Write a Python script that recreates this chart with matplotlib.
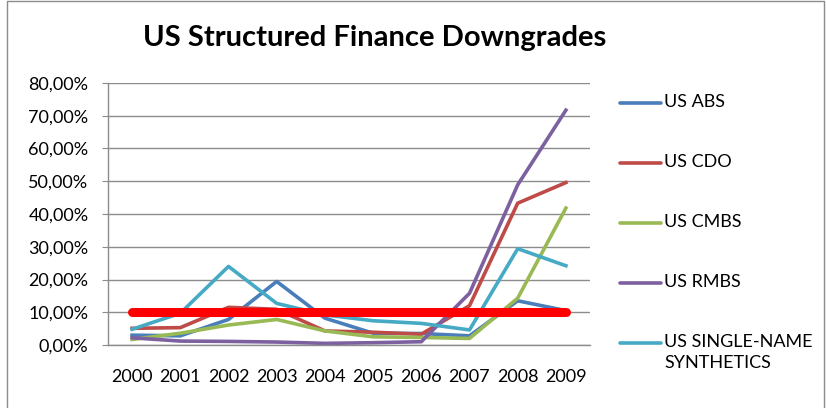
import matplotlib
matplotlib.use("Agg")
import matplotlib.pyplot as plt
import matplotlib.lines as mlines
from matplotlib.ticker import FuncFormatter, MultipleLocator

plt.rcParams['font.family'] = ['Lato', 'DejaVu Sans']

years = ['2000', '2001', '2002', '2003', '2004', '2005', '2006', '2007', '2008', '2009']
us_abs = [3.0, 2.8, 7.8, 19.4, 8.2, 3.6, 3.5, 2.8, 13.5, 10.5]
us_cdo = [5.1, 5.3, 11.5, 10.9, 4.3, 3.9, 3.3, 12.0, 43.3, 49.6]
us_cmbs = [1.7, 3.6, 6.1, 7.8, 4.3, 2.5, 2.3, 2.0, 14.3, 41.8]
us_rmbs = [2.2, 1.2, 1.1, 0.9, 0.5, 0.7, 1.0, 15.8, 48.9, 71.7]
us_synth = [4.8, 9.7, 24.0, 12.7, 9.2, 7.4, 6.6, 4.6, 29.4, 24.2]
threshold = [10.0] * len(years)

series = [
    ('US ABS', us_abs, '#4A7EBB'),
    ('US CDO', us_cdo, '#BE4B48'),
    ('US CMBS', us_cmbs, '#98B954'),
    ('US RMBS', us_rmbs, '#7D60A0'),
    ('US SINGLE-NAME\nSYNTHETICS', us_synth, '#46AAC5'),
]

W, H = 827, 408
fig = plt.figure(figsize=(W / 100, H / 100), dpi=100)
ax = fig.add_axes([108 / W, 1 - 345 / H, (590 - 108) / W, (345 - 83) / H])

x = list(range(len(years)))
for name, vals, col in series:
    ax.plot(x, vals, color=col, lw=2.6, solid_joinstyle='round')
ax.plot(x, threshold, color='#FF0000', lw=6.5, solid_capstyle='round', zorder=5)

grid_col = '#8C8C8C'
ax.set_xlim(-0.5, len(years) - 0.5)
ax.set_ylim(0, 80)
ax.yaxis.set_major_locator(MultipleLocator(10))
ax.yaxis.set_major_formatter(FuncFormatter(lambda v, p: ('%.2f%%' % v).replace('.', ',')))
ax.set_xticks(x)
ax.set_xticklabels(years)
ax.grid(axis='y', color=grid_col, lw=1)
ax.set_axisbelow(True)
for s in ['top', 'right']:
    ax.spines[s].set_visible(False)
for s in ['left', 'bottom']:
    ax.spines[s].set_color(grid_col)
    ax.spines[s].set_linewidth(1)
ax.tick_params(axis='y', length=4, color=grid_col, labelsize=13, pad=10)
ax.tick_params(axis='x', length=0, labelsize=13, pad=17)

fig.text(375 / W, 1 - 38 / H, 'US Structured Finance Downgrades', ha='center', va='center',
         fontsize=21, fontweight='bold')

# legend, placed by hand like the Excel layout
leg_y = [103, 163, 223, 283, 343]
for (name, vals, col), yy in zip(series, leg_y):
    fy = 1 - yy / H
    fig.add_artist(mlines.Line2D([620 / W, 661 / W], [fy, fy], color=col, lw=2.6,
                                 solid_capstyle='round', transform=fig.transFigure))
    fig.text(664 / W, fy + 9 / H, name, ha='left', va='top', fontsize=13, linespacing=1.35)

# chart border
fig.add_artist(mlines.Line2D([7 / W, 7 / W, 824 / W, 824 / W], [0, 0.998, 0.998, 0],
                             color='#8C8C8C', lw=1, transform=fig.transFigure))

fig.savefig('out.png', dpi=100)
